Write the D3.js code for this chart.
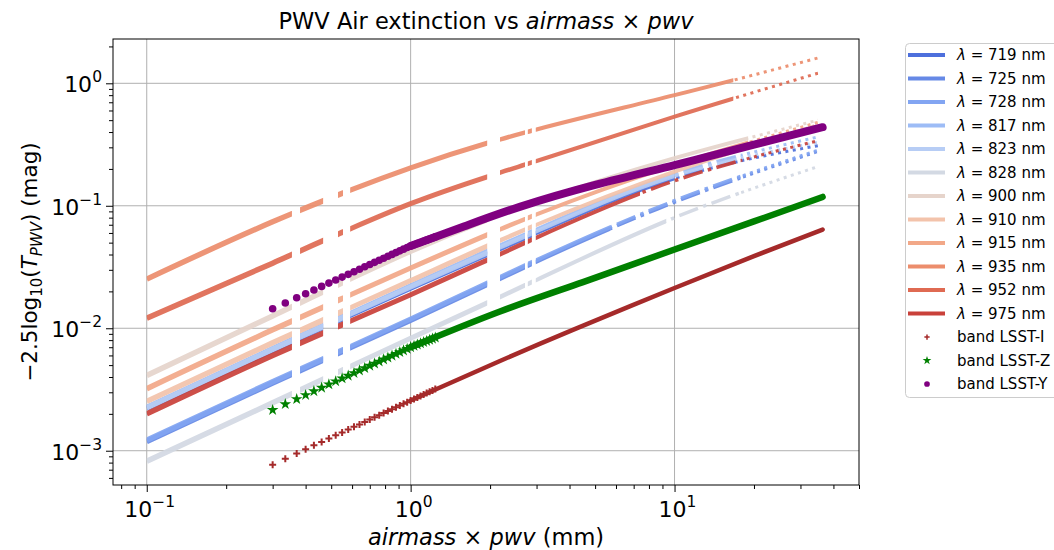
<!DOCTYPE html>
<meta charset="UTF-8">
<style>
    body { margin: 0; background: #fff; }
    svg text { font-family: "DejaVu Sans", sans-serif; fill: #000; }
    .grid line { stroke: #b0b0b0; stroke-width: 1; }
    .tick line { stroke: #000; }
    .domain { stroke: none; }
</style>
<body>
<div id="chart"></div>
<script src="https://cdn.jsdelivr.net/npm/d3@7"></script>
<script>
    // ---------------- data ----------------
    var wavelengths = [719, 725, 728, 817, 823, 828, 900, 910, 915, 935, 952, 975];

    // airmass x pwv (mm) where each wavelength curve was read
    var lineX = [0.1, 0.3, 1, 3, 10, 35];

    // -2.5 log10(T_pwv) (mag) at lineX
    var ext719 = [0.00222, 0.0066, 0.0212, 0.060, 0.168, 0.31];
    var ext725 = [0.00119, 0.00357, 0.0116, 0.035, 0.107, 0.278];
    var ext728 = [0.00122, 0.00366, 0.0119, 0.036, 0.110, 0.285];
    var ext817 = [0.00226, 0.0068, 0.0222, 0.064, 0.180, 0.365];
    var ext823 = [0.00224, 0.0067, 0.0217, 0.062, 0.175, 0.33];
    var ext828 = [0.00082, 0.00246, 0.0083, 0.0248, 0.080, 0.209];
    var ext900 = [0.00412, 0.0126, 0.0424, 0.108, 0.245, 0.50];
    var ext910 = [0.00253, 0.0076, 0.0245, 0.070, 0.190, 0.46];
    var ext915 = [0.00321, 0.0097, 0.031, 0.085, 0.215, 0.48];
    var ext935 = [0.0252, 0.074, 0.204, 0.42, 0.80, 1.61];
    var ext952 = [0.0121, 0.034, 0.104, 0.232, 0.535, 1.21];
    var ext975 = [0.00200, 0.0060, 0.0188, 0.055, 0.160, 0.34];

    // LSST bands: individual markers at low airmass x pwv ...
    var bandMarkX = [0.30, 0.335, 0.37, 0.40, 0.43, 0.46, 0.49, 0.52, 0.55, 0.58, 0.61, 0.64,
        0.67, 0.70, 0.73, 0.76, 0.79, 0.82, 0.85, 0.88, 0.91, 0.94, 0.97, 1.00,
        1.03, 1.06, 1.09, 1.12, 1.15, 1.18, 1.21, 1.24];
    var bandIMarkY = [0.00077, 0.00086, 0.00095, 0.00103, 0.00111, 0.00118, 0.00126, 0.00134,
        0.00141, 0.00149, 0.00157, 0.00164, 0.00172, 0.00180, 0.00188, 0.00195,
        0.00203, 0.00211, 0.00218, 0.00226, 0.00234, 0.00242, 0.00249, 0.00257,
        0.00265, 0.00272, 0.00280, 0.00288, 0.00296, 0.00303, 0.00311, 0.00319];
    var bandZMarkY = [0.00215, 0.00240, 0.00264, 0.00285, 0.00306, 0.00327, 0.00348, 0.00369,
        0.00390, 0.00410, 0.00431, 0.00452, 0.00473, 0.00494, 0.00514, 0.00535,
        0.00556, 0.00576, 0.00597, 0.00618, 0.00638, 0.00659, 0.00679, 0.00700,
        0.00718, 0.00735, 0.00752, 0.00770, 0.00787, 0.00804, 0.00822, 0.00839];
    var bandYMarkY = [0.01444, 0.01609, 0.01774, 0.01915, 0.02055, 0.02196, 0.02336, 0.02476,
        0.02616, 0.02756, 0.02896, 0.03035, 0.03174, 0.03314, 0.03453, 0.03592,
        0.03730, 0.03870, 0.04008, 0.04147, 0.04285, 0.04423, 0.04561, 0.04700,
        0.0481, 0.0492, 0.0502, 0.0513, 0.0524, 0.0535, 0.0546, 0.0557];

    // ... and where the markers pile up into a solid band
    var bandITraceX = [1.0, 2.18, 4.12, 10, 20, 36.4];
    var bandITraceY = [0.00257, 0.0054, 0.0097, 0.0213, 0.0388, 0.0639];
    var bandZTraceX = [1.0, 2.18, 4.5, 10, 20, 36.4];
    var bandZTraceY = [0.0070, 0.0137, 0.0238, 0.0440, 0.0745, 0.118];
    var bandYTraceX = [1.0, 1.6, 2.59, 5, 10, 20, 36.4];
    var bandYTraceY = [0.047, 0.068, 0.098, 0.148, 0.215, 0.315, 0.438];

    var xTicks = [0.1, 1, 10];
    var yTicks = [1e-3, 1e-2, 1e-1, 1];

    // ---------------- styles ----------------
    var lineColors = ["#4d6fdc", "#6689e6", "#82a5f2", "#9dbcf6", "#b7cdf5", "#d3d9e3",
        "#e6d4cb", "#f3c3ab", "#f2a888", "#ec8d6c", "#df6a52", "#c9413a"];
    // where a curve turns dash-dot and then dotted
    var dashStart = [10, 5.7, 5.7, 10, 10, 9.3, 19, 19, 19, 16.7, 16.7, 7.4];
    var dotStart = [17.8, 17.8, 17.8, 17.8, 17.8, 17.8, 19, 19, 19, 16.7, 16.7, 17.8];

    var extByWl = [ext719, ext725, ext728, ext817, ext823, ext828,
        ext900, ext910, ext915, ext935, ext952, ext975];

    var series = wavelengths.map(function (wl, i) {
        return {
            wl: wl, color: lineColors[i], dash0: dashStart[i], dot0: dotStart[i],
            pts: lineX.map(function (xv, j) { return [xv, extByWl[i][j]]; })
        };
    });

    var bands = [
        {name: "band LSST-I", color: "#a52a2a", marker: "plus",
            marks: bandMarkX.map(function (v, j) { return [v, bandIMarkY[j]]; }),
            trace: bandITraceX.map(function (v, j) { return [v, bandITraceY[j]]; }), width: 4.5},
        {name: "band LSST-Z", color: "#008000", marker: "star",
            marks: bandMarkX.map(function (v, j) { return [v, bandZMarkY[j]]; }),
            trace: bandZTraceX.map(function (v, j) { return [v, bandZTraceY[j]]; }), width: 6.5},
        {name: "band LSST-Y", color: "#800080", marker: "circle",
            marks: bandMarkX.map(function (v, j) { return [v, bandYMarkY[j]]; }),
            trace: bandYTraceX.map(function (v, j) { return [v, bandYTraceY[j]]; }), width: 8}
    ];

    // ---------------- layout ----------------
    var W = 1054, H = 550;
    var margin = {top: 39, right: 195, bottom: 65, left: 113};
    var plotW = W - margin.left - margin.right,
        plotH = H - margin.top - margin.bottom;

    var svg = d3.select("#chart").append("svg")
        .attr("width", W)
        .attr("height", H);
    var defs = svg.append("defs");

    var x = d3.scaleLog().domain([0.0745, 50]).range([margin.left, margin.left + plotW]);
    var y = d3.scaleLog().domain([5.25e-4, 2.3]).range([margin.top + plotH, margin.top]);

    defs.append("clipPath").attr("id", "plot-clip").append("rect")
        .attr("x", margin.left).attr("y", margin.top)
        .attr("width", plotW).attr("height", plotH);

    // grid
    var grid = svg.append("g").attr("class", "grid");
    grid.selectAll("line.gx").data(xTicks).join("line").attr("class", "gx")
        .attr("x1", function (d) { return x(d); }).attr("x2", function (d) { return x(d); })
        .attr("y1", margin.top).attr("y2", margin.top + plotH);
    grid.selectAll("line.gy").data(yTicks).join("line").attr("class", "gy")
        .attr("y1", function (d) { return y(d); }).attr("y2", function (d) { return y(d); })
        .attr("x1", margin.left).attr("x2", margin.left + plotW);

    var plot = svg.append("g").attr("clip-path", "url(#plot-clip)");

    var line = d3.line()
        .x(function (d) { return x(d[0]); })
        .y(function (d) { return y(d[1]); })
        .curve(d3.curveNatural);

    var clipCount = 0;
    function zoneClip(x0, x1) {
        var id = "zone" + (clipCount++);
        defs.append("clipPath").attr("id", id).append("rect")
            .attr("x", x(x0)).attr("width", Math.max(0, x(x1) - x(x0)))
            .attr("y", margin.top).attr("height", plotH);
        return "url(#" + id + ")";
    }

    // wavelength curves, split into solid / dash-dot / dotted zones
    series.forEach(function (s) {
        var g = plot.append("g").attr("opacity", 0.92);
        var d = line(s.pts);
        var zones = [
            [0.1, 0.355, 5.5, null], [0.381, 0.466, 5.5, null], [0.531, 0.554, 5.5, null],
            [0.59, 1.95, 5, null], [2.18, 2.71, 4.5, null], [2.78, 2.88, 4.5, null],
            [2.98, s.dash0, 4, null],
            [s.dash0, s.dot0, 3.5, "20,5.5,3.5,5.5"],
            [s.dot0, 35, 3, "3,4.5"]
        ];
        zones.forEach(function (z) {
            if (z[1] <= z[0]) return;
            g.append("path")
                .attr("d", d)
                .attr("fill", "none")
                .attr("stroke", s.color)
                .attr("stroke-width", z[2])
                .attr("stroke-dasharray", z[3])
                .attr("clip-path", zoneClip(z[0], z[1]));
        });
    });

    // marker shapes
    var starPath = d3.symbol().type(d3.symbolStar).size(42)();
    function drawMarker(sel, kind, color) {
        if (kind === "plus") {
            sel.append("path").attr("d", "M-3.5,0H3.5M0,-3.5V3.5")
                .attr("stroke", color).attr("stroke-width", 2).attr("fill", "none");
        } else if (kind === "star") {
            sel.append("path").attr("d", starPath).attr("fill", color);
        } else {
            sel.append("circle").attr("r", 3.8).attr("fill", color);
        }
    }

    bands.forEach(function (b) {
        plot.append("path")
            .attr("d", line(b.trace))
            .attr("fill", "none")
            .attr("stroke", b.color)
            .attr("stroke-width", b.width)
            .attr("stroke-linecap", "round");
        plot.append("g").selectAll("g").data(b.marks).join("g")
            .attr("transform", function (d) { return "translate(" + x(d[0]) + "," + y(d[1]) + ")"; })
            .each(function () { drawMarker(d3.select(this), b.marker, b.color); });
    });

    // ---------------- axes ----------------
    function minorTicks(domain) {
        var out = [];
        for (var e = -4; e <= 2; e++) {
            for (var m = 2; m <= 9; m++) {
                var v = m * Math.pow(10, e);
                if (v >= domain[0] && v <= domain[1]) out.push(v);
            }
        }
        return out;
    }

    var xAxisG = svg.append("g").attr("transform", "translate(0," + (margin.top + plotH) + ")");
    xAxisG.call(d3.axisBottom(x).tickValues(xTicks).tickSize(7).tickFormat(""));
    xAxisG.append("g").call(d3.axisBottom(x).tickValues(minorTicks(x.domain())).tickSize(4).tickFormat(""));

    var yAxisG = svg.append("g").attr("transform", "translate(" + margin.left + ",0)");
    yAxisG.call(d3.axisLeft(y).tickValues(yTicks).tickSize(7).tickFormat(""));
    yAxisG.append("g").call(d3.axisLeft(y).tickValues(minorTicks(y.domain())).tickSize(4).tickFormat(""));

    svg.selectAll(".domain").remove();

    // power-of-ten labels
    function expLabel(v) {
        var e = Math.round(Math.log10(v));
        return e < 0 ? "\u2212" + (-e) : String(e);
    }
    xTicks.forEach(function (v) {
        var t = svg.append("text").attr("x", x(v) + 3).attr("y", margin.top + plotH + 32)
            .attr("text-anchor", "middle").style("font-size", "22px");
        t.append("tspan").text("10");
        t.append("tspan").attr("dy", -10).style("font-size", "15.5px").text(expLabel(v));
    });
    yTicks.forEach(function (v) {
        var t = svg.append("text").attr("x", margin.left - 11).attr("y", y(v) + 9)
            .attr("text-anchor", "end").style("font-size", "22px");
        t.append("tspan").text("10");
        t.append("tspan").attr("dy", -10).style("font-size", "15.5px").text(expLabel(v));
    });

    // frame
    svg.append("rect")
        .attr("x", margin.left).attr("y", margin.top)
        .attr("width", plotW).attr("height", plotH)
        .attr("fill", "none").attr("stroke", "#000").attr("stroke-width", 1);

    // title
    var title = svg.append("text").attr("x", margin.left + plotW / 2).attr("y", 29)
        .attr("text-anchor", "middle").style("font-size", "22.5px");
    title.append("tspan").text("PWV Air extinction vs ");
    title.append("tspan").style("font-style", "italic").text("airmass");
    title.append("tspan").text(" \u00d7 ");
    title.append("tspan").style("font-style", "italic").text("pwv");

    // x label
    var xl = svg.append("text").attr("x", margin.left + plotW / 2).attr("y", 545)
        .attr("text-anchor", "middle").style("font-size", "22.5px");
    xl.append("tspan").style("font-style", "italic").text("airmass");
    xl.append("tspan").text(" \u00d7 ");
    xl.append("tspan").style("font-style", "italic").text("pwv");
    xl.append("tspan").text(" (mm)");

    // y label
    var yl = svg.append("text")
        .attr("transform", "translate(37," + (margin.top + plotH / 2) + ") rotate(-90)")
        .attr("text-anchor", "middle").style("font-size", "21.5px");
    yl.append("tspan").text("\u22122.5log");
    yl.append("tspan").attr("dy", 5).style("font-size", "15px").text("10");
    yl.append("tspan").attr("dy", -5).text("(");
    yl.append("tspan").style("font-style", "italic").text("T");
    yl.append("tspan").attr("dy", 5).style("font-size", "15px").style("font-style", "italic").text("PWV");
    yl.append("tspan").attr("dy", -5).text(") (mag)");

    // ---------------- legend ----------------
    var legend = svg.append("g").attr("transform", "translate(905,43)");
    legend.append("rect")
        .attr("x", 0.5).attr("y", 0.5).attr("width", 170).attr("height", 354)
        .attr("rx", 4).attr("fill", "#fff").attr("fill-opacity", 0.8)
        .attr("stroke", "#cccccc");

    var rowH = 23.5, row0 = 12;
    series.forEach(function (s, i) {
        var ry = row0 + i * rowH;
        legend.append("line")
            .attr("x1", 3).attr("x2", 40).attr("y1", ry).attr("y2", ry)
            .attr("stroke", s.color).attr("stroke-width", 4);
        var t = legend.append("text").attr("x", 52).attr("y", ry + 5).style("font-size", "15px");
        t.append("tspan").style("font-style", "italic").text("\u03bb");
        t.append("tspan").text(" = " + s.wl + " nm");
    });
    bands.forEach(function (b, i) {
        var ry = row0 + (series.length + i) * rowH;
        var mg = legend.append("g").attr("transform", "translate(22," + ry + ") scale(0.75)");
        drawMarker(mg, b.marker, b.color);
        legend.append("text").attr("x", 52).attr("y", ry + 5).style("font-size", "15px").text(b.name);
    });
</script>
</body>
